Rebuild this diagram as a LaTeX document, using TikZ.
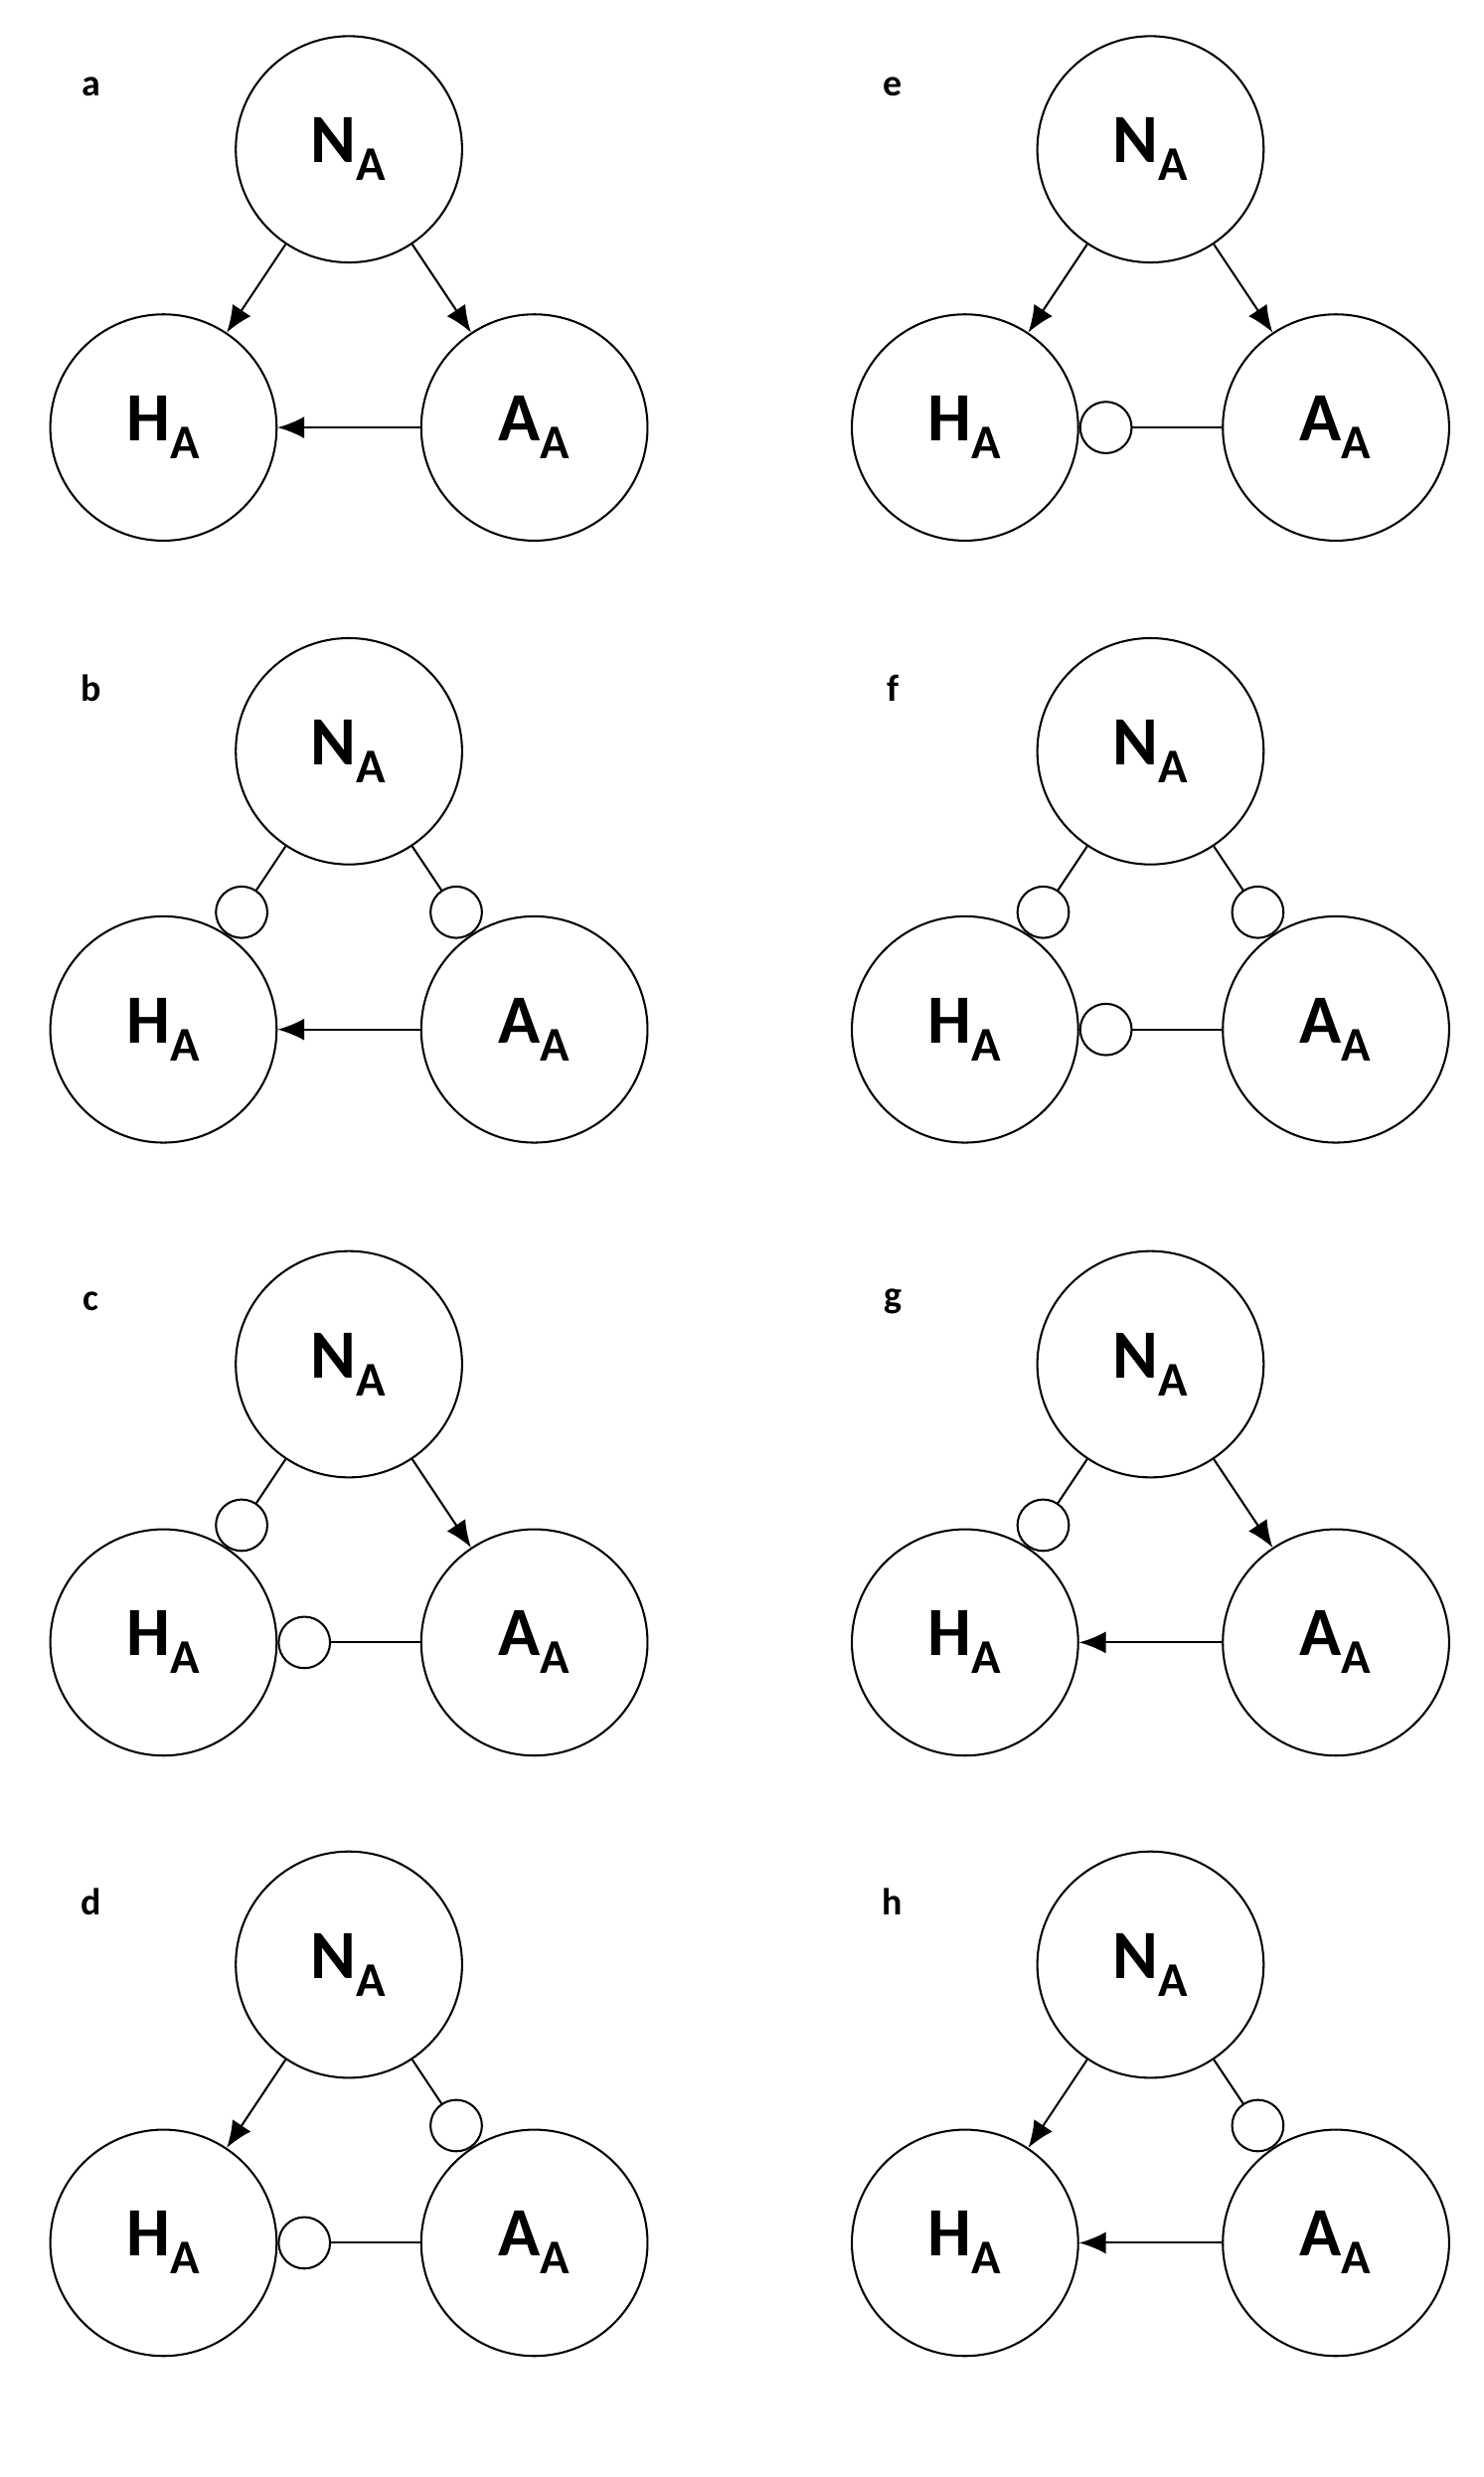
\documentclass[tikz,border=0pt]{standalone}
\usepackage{fontspec}
\setmainfont{Carlito}
\usetikzlibrary{arrows.meta}
\tikzset{
  big/.style={draw,circle,minimum size=144pt,inner sep=0pt,line width=1.3pt,font=\fontsize{44}{44}\selectfont\bfseries},
  act/.style={-{Latex[length=17pt,width=14pt]},line width=1.3pt},
  inh/.style={-{Circle[open,length=34pt,width=34pt,line width=1.3pt]},line width=1.3pt},
  tag/.style={font=\fontsize{24}{24}\selectfont\bfseries}
}
\begin{document}
\begin{tikzpicture}[x=1pt,y=-1pt]
\useasboundingbox (0,0) rectangle (944,1576);
\foreach \px/\py/\lab/\nh/\na/\ah in {
  0/0/a/act/act/act, 0/383/b/inh/inh/act, 0/773/c/inh/act/inh, 0/1155/d/act/inh/inh,
  510/0/e/act/act/inh, 510/383/f/inh/inh/inh, 510/773/g/inh/act/act, 510/1155/h/act/inh/act}{
  \begin{scope}[shift={(\px,\py)}]
    \node[tag] (t\lab) at (58,55) {\lab};
    \node[big] (n\lab) at (222,95) {N\textsubscript{A}};
    \node[big] (h\lab) at (104,272) {H\textsubscript{A}};
    \node[big] (a\lab) at (340,272) {A\textsubscript{A}};
    \draw[\nh] (n\lab) -- (h\lab);
    \draw[\na] (n\lab) -- (a\lab);
    \draw[\ah] (a\lab) -- (h\lab);
  \end{scope}}
\end{tikzpicture}
\end{document}
